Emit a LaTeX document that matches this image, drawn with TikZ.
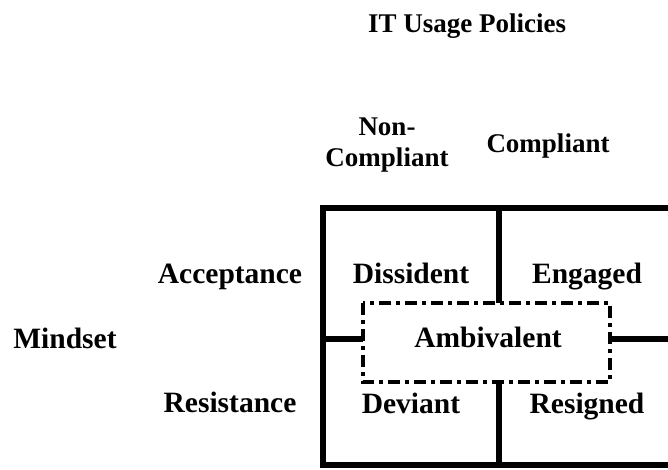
\documentclass[tikz,border=0pt]{standalone}
\usepackage{fontspec}
\setmainfont{Liberation Serif}
\begin{document}
\begin{tikzpicture}[x=1pt,y=-1pt,
  big/.style={font=\fontsize{29.5}{32}\selectfont\bfseries, anchor=base, inner sep=0pt},
  top/.style={font=\fontsize{27}{31}\selectfont\bfseries, anchor=base, inner sep=0pt, align=center},
  wall/.style={line width=5.5pt},
  dashdot/.style={line width=3.3pt, dash pattern=on 12pt off 5pt on 4pt off 5pt}]
\clip (0,0) rectangle (668,470);
\fill[white] (0,0) rectangle (668,470);
% labels
\node[top] (title) at (467,33) {IT Usage Policies};
\node[top, anchor=center] (noncomp) at (387,145) {Non-\\Compliant};
\node[top] (comp) at (548,153) {Compliant};
\node[big] (accept) at (230,283) {Acceptance};
\node[big] (mind) at (65,348) {Mindset};
\node[big] (resist) at (230,412) {Resistance};
\node[big] (diss) at (411,283) {Dissident};
\node[big] (eng) at (587,283) {Engaged};
\node[big] (dev) at (411,413) {Deviant};
\node[big] (res) at (587,413) {Resigned};
\node[big] (amb) at (488,347) {Ambivalent};
% grid
\coordinate (tl) at (323,208);
\coordinate (br) at (720,465);
\draw[wall] (tl) rectangle (br);
\coordinate (boxtl) at (363,303);
\coordinate (boxbr) at (610,382);
\coordinate (vtop) at (499,208);
\coordinate (vbot) at (499,465);
\coordinate (hleft) at (323,339);
\coordinate (hright) at (720,339);
\draw[wall] (vtop) -- (vtop |- boxtl);
\draw[wall] (vbot) -- (vbot |- boxbr);
\draw[wall] (hleft) -- (hleft -| boxtl);
\draw[wall] (hright) -- (hright -| boxbr);
\draw[dashdot] (boxtl) rectangle (boxbr);
\end{tikzpicture}
\end{document}
